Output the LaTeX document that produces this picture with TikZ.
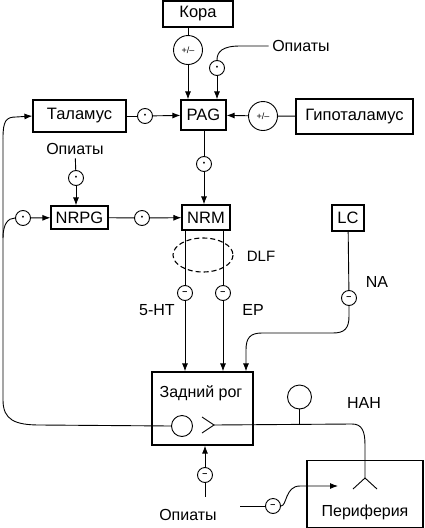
\documentclass[tikz,border=0pt]{standalone}
\usepackage{fontspec}
\setmainfont{Liberation Sans}
\usetikzlibrary{arrows.meta}

\tikzset{
    box/.style={draw, line width=1.2pt, inner sep=0pt, font=\fontsize{16.5}{18}\selectfont},
    lbl/.style={font=\fontsize{16}{18}\selectfont},
    sig/.style={draw, circle, inner sep=0pt, minimum size=15pt, font=\fontsize{7}{8}\selectfont},
    bigsig/.style={sig, minimum size=29pt, font=\fontsize{9}{10}\selectfont},
    minus/.style={sig, font=\fontsize{9}{9}\bfseries},
    ar/.style={-{Latex[length=8pt,width=6pt]}},
}

\begin{document}
\begin{tikzpicture}[x=1pt, y=-1pt, line width=0.9pt]
    \useasboundingbox (0,0) rectangle (424,528);

    % boxes
    \node[box, minimum width=70pt, minimum height=26pt] (kora) at (198,14) {Кора};
    \node[box, minimum width=93pt, minimum height=32pt] (tal) at (79.5,116) {Таламус};
    \node[box, minimum width=45pt, minimum height=30pt] (pag) at (203.5,115) {PAG};
    \node[box, minimum width=117pt, minimum height=35pt] (hyp) at (354.5,116.5) {Гипоталамус};
    \node[box, minimum width=57pt, minimum height=23pt] (nrpg) at (79.5,217.5) {NRPG};
    \node[box, minimum width=48pt, minimum height=25pt] (nrm) at (206,217.5) {NRM};
    \node[box, minimum width=32pt, minimum height=26pt] (lc) at (348,218) {LC};
    \node[box, minimum width=101pt, minimum height=73pt] (horn) at (202.5,408.5) {};
    \node[lbl] (hornt) at (201,393) {Задний рог};
    \node[box, minimum width=116pt, minimum height=67pt] (peri) at (365,494) {};
    \node[lbl] (perit) at (365,512) {Периферия};

    % signs
    \node[bigsig] (s1) at (188,50) {+/--};
    \node[sig] (s2) at (217,68) {\textbullet};
    \node[sig] (s3) at (145,116) {\textbullet};
    \node[bigsig] (s4) at (263,116) {+/--};
    \node[sig] (s5) at (204,164) {\textbullet};
    \node[sig] (s6) at (76,178) {\textbullet};
    \node[sig] (s7) at (142,218) {\textbullet};
    \node[sig] (s8) at (23,218) {\textbullet};
    \node[minus] (m1) at (185,293) {--};
    \node[minus] (m2) at (223,293) {--};
    \node[minus] (m3) at (349,298) {--};
    \node[minus] (m4) at (205,475) {--};
    \node[minus] (m5) at (273,506) {--};

    % labels
    \node[lbl] (o1) at (301,46) {Опиаты};
    \node[lbl] (o2) at (75,149) {Опиаты};
    \node[lbl] (o3) at (188,515) {Опиаты};
    \node[lbl, font=\fontsize{15}{17}\selectfont] (dlf) at (261,256) {DLF};
    \node[lbl] (ht) at (157,310) {5-HT};
    \node[lbl] (ep) at (253,310) {EP};
    \node[lbl] (na) at (377,282) {NA};
    \node[lbl] (nah) at (364,403) {НАН};

    % inputs to PAG
    \draw (kora.south -| s1.north) -- (s1);
    \draw[ar] (s1) -- (s1 |- pag.north);
    \draw (o1.west) -- (240,46) .. controls (222,46) and (217,52) .. (s2.north);
    \draw[ar] (s2) -- (s2 |- pag.north);
    \draw (tal) -- (s3);
    \draw[ar] (s3) -- (pag);
    \draw (hyp) -- (s4);
    \draw[ar] (s4) -- (pag);

    % PAG -> NRM, NRPG -> NRM
    \draw (pag.south -| s5.north) -- (s5);
    \draw[ar] (s5) -- (s5 |- nrm.north);
    \draw (o2) -- (s6);
    \draw[ar] (s6) -- (s6 |- nrpg.north);
    \draw (nrpg) -- (s7);
    \draw[ar] (s7) -- (nrm);
    \draw[ar] (s8) -- (nrpg);

    % afferent fibre
    \coordinate (up) at (3,138);
    \draw[ar] (up) .. controls (3,121) and (6,117) .. (16,117) -- (tal.west);
    \draw (s8.west) .. controls (8,218) and (3,224) .. (3,238);
    \node[draw, circle, minimum size=21pt, inner sep=0pt] (soma) at (182,426) {};
    \draw (up) -- (3,400) .. controls (3,420) and (15,425) .. (40,425) -- (soma.west);
    \coordinate (syn) at (214,425);
    \draw (202,417) -- (syn) -- (202,433);
    \draw (syn) -- (352,424) .. controls (362,424) and (365,431) .. (365,445) -- (365,478);
    \draw (353,489) -- (365,478) -- (377,489);
    \node[draw, circle, minimum size=24pt, inner sep=0pt] (nahc) at (299.5,397) {};
    \draw (nahc.south) -- (299.5,424);

    % descending paths
    \draw[dashed, dash pattern=on 5pt off 3pt, line width=1.1pt] (203,255) ellipse [x radius=30, y radius=17];
    \draw (m1 |- nrm.south) -- (m1);
    \draw[ar] (m1) -- (m1 |- horn.north);
    \draw (m2 |- nrm.south) -- (m2);
    \draw[ar] (m2) -- (m2 |- horn.north);
    \draw (lc) -- (m3);
    \draw[ar] (m3.south) -- (349,316) .. controls (349,328) and (345,333) .. (333,333)
        -- (262,333) .. controls (250,333) and (246,338) .. (246,350) -- ([xshift=43.5pt]horn.north);

    % opiates below
    \draw[ar] (m4) -- (m4 |- horn.south);
    \draw (m4) -- (205,497);
    \coordinate (o4) at (240,506);
    \draw (o4) -- (m5);
    \draw[ar] (m5.east) .. controls (287,506) and (285,486) .. (300,486) -- (338,486);
\end{tikzpicture}
\end{document}
